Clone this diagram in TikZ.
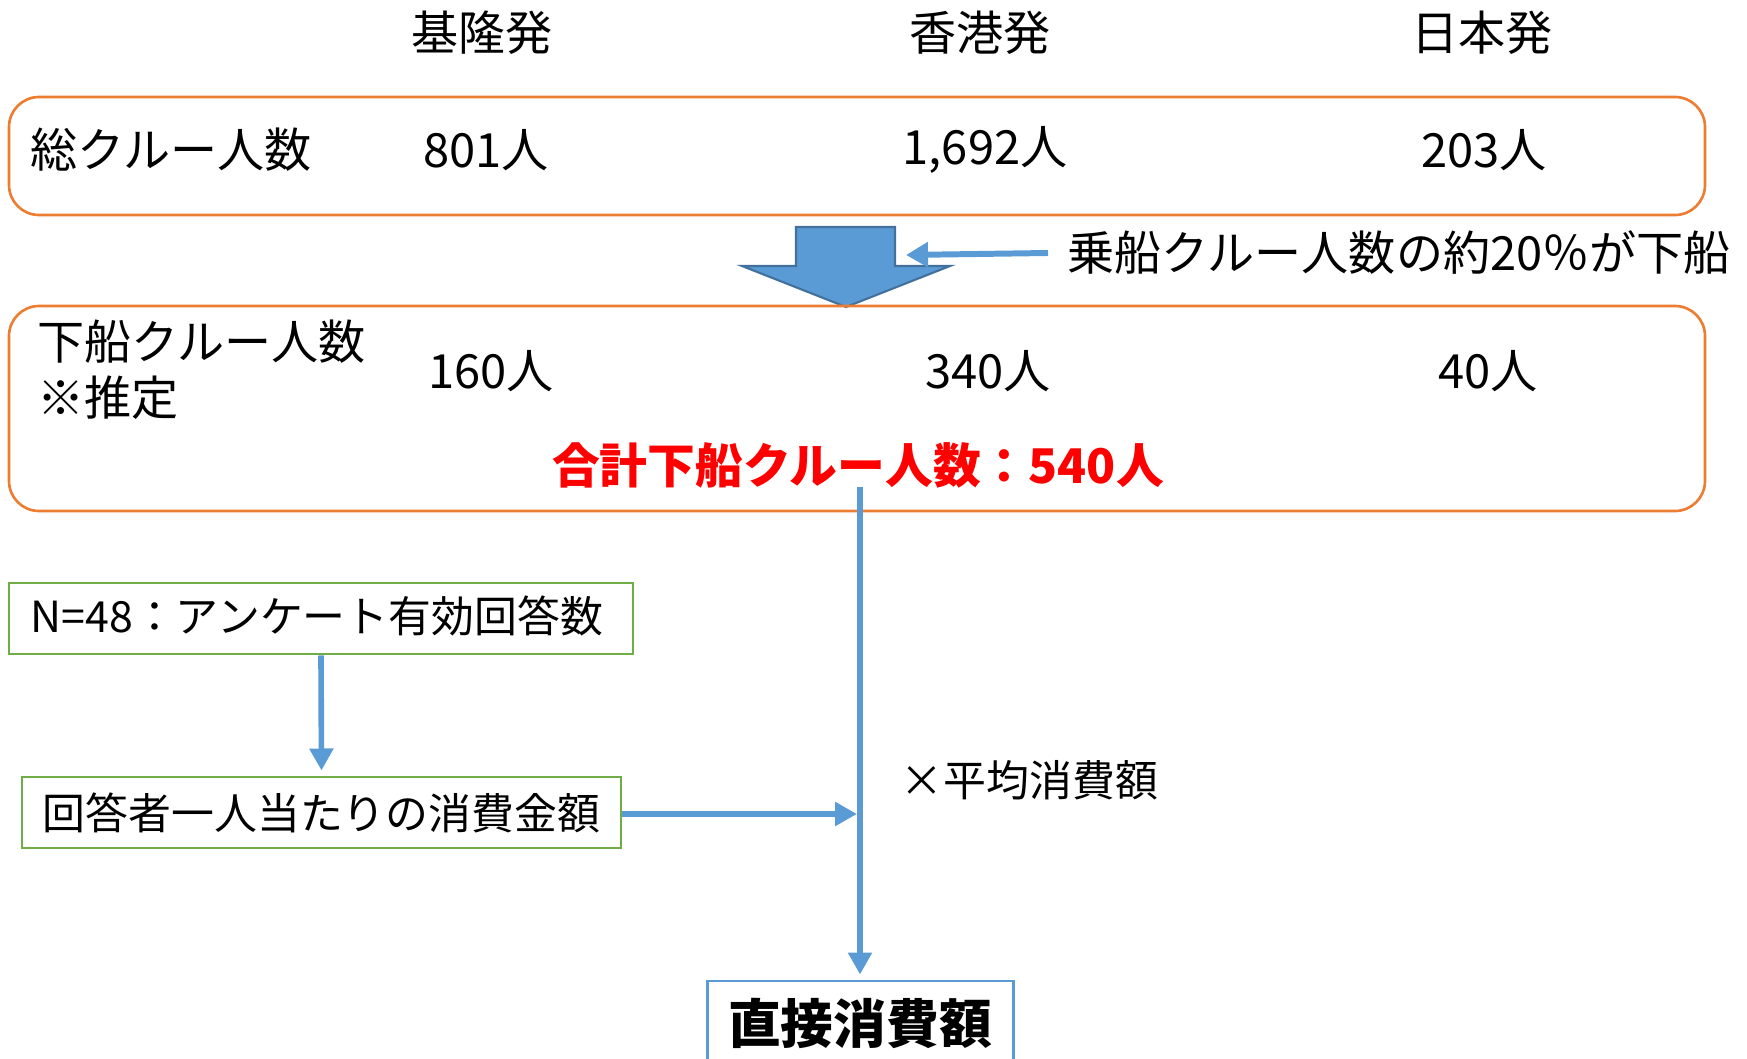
\documentclass[tikz,border=0pt]{standalone}
\usepackage{fontspec}
\setmainfont{Noto Sans CJK JP}
\usetikzlibrary{arrows.meta}
\definecolor{orng}{HTML}{ED7D31}
\definecolor{bl}{HTML}{5B9BD5}
\definecolor{dbl}{HTML}{41719C}
\definecolor{grn}{HTML}{70AD47}
\definecolor{rd}{HTML}{FF0000}
\tikzset{
  txt/.style={inner sep=0pt, font=\fontsize{13.4}{16}\selectfont},
  stxt/.style={inner sep=0pt, font=\fontsize{12.2}{15}\selectfont},
  orbox/.style={draw=orng, line width=0.75pt, rounded corners=3mm, inner sep=0pt},
  grbox/.style={draw=grn, line width=0.85pt, inner sep=0pt},
  blbox/.style={draw=bl, line width=0.85pt, inner sep=0pt},
  conn/.style={draw=bl, line width=1.6pt, -{Triangle[length=2.2mm,width=2.3mm]}},
}
\begin{document}
\begin{tikzpicture}[x=0.1mm,y=-0.1mm]
\useasboundingbox (0,0) rectangle (1747,1059);
\clip (0,0) rectangle (1747,1059);
% headers
\node[txt] (h1) at (482,33) {基隆発};
\node[txt] (h2) at (980,33) {香港発};
\node[txt] (h3) at (1482,33) {日本発};
% top box
\node[orbox, minimum width=169.6mm, minimum height=11.8mm] (box1) at (857,156) {};
\node[txt, anchor=west] (l1) at (30,150) {総クルー人数};
\node[txt] (n11) at (486,150) {801人};
\node[txt] (n12) at (985,150) {1,692人};
\node[txt] (n13) at (1484,150) {203人};
% block arrow
\draw[fill=bl, draw=dbl, line width=0.6pt, line join=miter]
  (796,227) -- (895,227) -- (895,266) -- (950,266) -- (846,307) -- (742,266) -- (796,266) -- cycle;
\node[txt, anchor=west] (note) at (1067,253) {乗船クルー人数の約20％が下船};
\coordinate (notestart) at (1048,253);
\coordinate (noteend) at (906,255);
\draw[draw=bl, line width=1.7pt, -{Triangle[length=2.2mm,width=2.4mm]}] (notestart) -- (noteend);
% second box
\node[orbox, minimum width=169.6mm, minimum height=20.5mm] (box2) at (857,408.5) {};
\node[txt, anchor=west] (l2a) at (37,342) {下船クルー人数};
\node[txt, anchor=west] (l2b) at (37,398) {※推定};
\node[txt] (n21) at (491,371) {160人};
\node[txt] (n22) at (988,371) {340人};
\node[txt] (n23) at (1488,371) {40人};
\node[inner sep=0pt, font=\fontsize{13.6}{16}\selectfont\bfseries, text=rd] (tot) at (858,465) {合計下船クルー人数：540人};
% green boxes
\node[grbox, minimum width=62.4mm, minimum height=7.1mm] (g1) at (321,618.5) {};
\node[stxt, anchor=west] (g1t) at (30,616) {N=48：アンケート有効回答数};
\node[grbox, minimum width=59.9mm, minimum height=7.1mm, stxt] (g2) at (321.5,812.5) {回答者一人当たりの消費金額};
% bottom box
\node[blbox, minimum width=30.6mm, minimum height=8.4mm, font=\fontsize{15}{18}\selectfont\bfseries] (res) at (860,1023) {直接消費額};
% connectors
\coordinate (vtop) at (860,487);
\coordinate (vjoin) at (857,814);
\draw[conn, shorten >=0.5mm] (vtop) -- (vtop |- res.north);
\draw[conn] (g1.south) -- ([yshift=0.5mm]g2.north);
\draw[conn] (g2.east |- vjoin) -- (vjoin);
\node[stxt, anchor=west] (avg) at (900,780) {×平均消費額};
\end{tikzpicture}
\end{document}
